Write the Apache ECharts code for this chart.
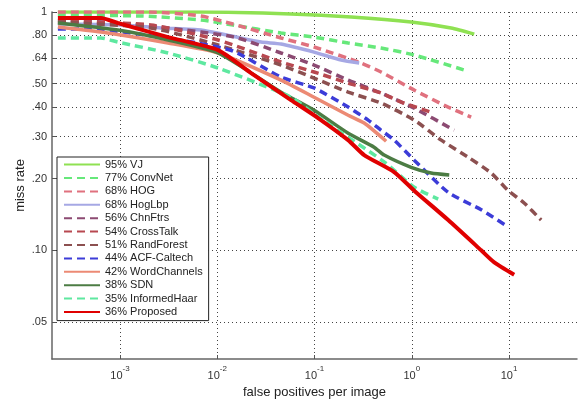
<!DOCTYPE html>
<html>
<head>
<meta charset="utf-8">
<script src="https://cdn.jsdelivr.net/npm/echarts@6/dist/echarts.min.js"></script>
<style>
  html, body { margin: 0; padding: 0; background: #fff; }
  #missRateChart { width: 579px; height: 403px; }
</style>
</head>
<body>
<div id="missRateChart"></div>
<script>
  // tick values
  var xTicks = [1e-3, 1e-2, 1e-1, 1, 10]
  var yTicks = [0.05, 0.1, 0.2, 0.3, 0.4, 0.5, 0.64, 0.8, 1]

  var names = ['95% VJ', '77% ConvNet', '68% HOG', '68% HogLbp', '56% ChnFtrs', '54% CrossTalk',
    '51% RandForest', '44% ACF-Caltech', '42% WordChannels', '38% SDN', '35% InformedHaar', '36% Proposed']

  // [false positives per image, miss rate]
  var vj = [[2.3e-4, 1.0], [6.8e-3, 1.0], [5.74e-2, 0.981], [0.238, 0.953], [0.986, 0.908], [2.54, 0.857], [4.39, 0.808]]
  var convNet = [[2.3e-4, 0.971], [1.64e-3, 0.962], [6.8e-3, 0.926], [1.45e-2, 0.882], [4.53e-2, 0.816], [0.099, 0.785],
    [0.222, 0.741], [0.484, 0.706], [1.06, 0.660], [3.46, 0.571]]
  var hog = [[2.3e-4, 1.0], [2.08e-3, 1.0], [6.8e-3, 0.962], [1.45e-2, 0.89], [4.53e-2, 0.778], [0.099, 0.713],
    [0.301, 0.611], [0.484, 0.560], [1.06, 0.470], [2.37, 0.399], [4.08, 0.362]]
  var hogLbp = [[2.3e-4, 0.89], [1.02e-3, 0.882], [2.64e-3, 0.857], [6.8e-3, 0.84], [1.39e-2, 0.793], [2.82e-2, 0.748],
    [4.53e-2, 0.734], [0.099, 0.679], [0.188, 0.629], [0.288, 0.611]]
  var chnFtrs = [[2.3e-4, 0.926], [9.5e-4, 0.899], [3.12e-3, 0.857], [1.49e-2, 0.785], [4.53e-2, 0.673], [0.099, 0.599],
    [0.222, 0.518], [0.484, 0.457], [1.06, 0.395], [2.73, 0.319]]
  var crossTalk = [[2.3e-4, 0.917], [2.08e-3, 0.882], [1.02e-2, 0.763], [4.53e-2, 0.617], [0.099, 0.560], [0.222, 0.503],
    [0.484, 0.457], [0.778, 0.419], [1.58, 0.380]]
  var randForest = [[2.3e-4, 0.908], [2.08e-3, 0.857], [1.02e-2, 0.727], [4.53e-2, 0.599], [0.099, 0.528], [0.222, 0.461],
    [0.484, 0.415], [1.06, 0.352], [2.01, 0.290], [3.80, 0.246], [6.56, 0.211], [9.82, 0.178], [14.3, 0.158], [21.4, 0.134]]
  var acfCaltech = [[2.3e-4, 0.848], [4.91e-4, 0.848], [4.78e-3, 0.755], [1.45e-2, 0.686], [4.53e-2, 0.533], [0.099, 0.48],
    [0.222, 0.399], [0.356, 0.352], [0.484, 0.319], [0.659, 0.290], [1.06, 0.239], [2.37, 0.175], [5.18, 0.148], [9.36, 0.127]]
  var wordChannels = [[2.3e-4, 0.865], [6.38e-4, 0.824], [3.12e-3, 0.741], [1.02e-2, 0.673], [4.53e-2, 0.518], [0.099, 0.439],
    [0.222, 0.369], [0.324, 0.342], [0.545, 0.287]]
  var sdn = [[2.3e-4, 0.899], [9.5e-4, 0.84], [3.12e-3, 0.763], [1.02e-2, 0.673], [4.53e-2, 0.461], [0.099, 0.387],
    [0.222, 0.31], [0.41, 0.271], [0.52, 0.251], [0.986, 0.223], [1.58, 0.211], [2.43, 0.207]]
  var informedHaar = [[2.3e-4, 0.778], [6.38e-4, 0.778], [9.5e-4, 0.748], [3.12e-3, 0.673], [1.02e-2, 0.582], [5.74e-2, 0.439],
    [0.099, 0.373], [0.52, 0.235], [1.06, 0.184], [1.87, 0.164]]
  var proposed = [[2.3e-4, 0.944], [6.38e-4, 0.944], [9.5e-4, 0.899], [3.12e-3, 0.785], [1.02e-2, 0.692], [2.23e-2, 0.554],
    [5.74e-2, 0.427], [0.109, 0.359], [0.222, 0.29], [0.324, 0.251], [0.659, 0.213], [1.06, 0.178], [2.37, 0.134],
    [5.18, 0.10], [7.05, 0.089], [11.3, 0.079]]

  var curves = [vj, convNet, hog, hogLbp, chnFtrs, crossTalk, randForest, acfCaltech, wordChannels, sdn, informedHaar, proposed]

  var lineColors = ['#8fe152', '#66e87a', '#e0717e', '#a6a8e4', '#8c4a72', '#b84850',
    '#8c5050', '#3c3cd8', '#ec8a74', '#4c7c44', '#5ee8a0', '#e00000']
  var dashed = [false, true, true, false, true, true, true, true, false, false, true, false]

  var font = 'Liberation Sans, Arial, sans-serif'

  function makeSeries () {
    var list = []
    for (var i = 0; i < curves.length; i++) {
      list.push({
        name: names[i],
        type: 'line',
        data: curves[i],
        symbol: 'none',
        smooth: 0.2,
        lineStyle: {
          color: lineColors[i],
          width: i === curves.length - 1 ? 4 : 3.5,
          type: dashed[i] ? [8, 5] : 'solid'
        },
        itemStyle: { color: lineColors[i] }
      })
    }
    return list
  }

  var gridLine = { show: true, lineStyle: { color: '#444', width: 1, type: [1, 3] } }

  var option = {
    animation: false,
    grid: { left: 52, right: 2, top: 12, bottom: 44, outerBoundsMode: 'none' },
    xAxis: {
      type: 'log',
      logBase: 10,
      min: 2e-4,
      max: 50,
      name: 'false positives per image',
      nameLocation: 'middle',
      nameGap: 26,
      nameTextStyle: { fontSize: 13, color: '#222', fontFamily: font },
      axisLine: { lineStyle: { color: '#666', width: 1.5 } },
      axisTick: { inside: true, length: 4, customValues: xTicks, lineStyle: { color: '#555' } },
      axisLabel: {
        customValues: xTicks,
        margin: 6,
        color: '#333',
        fontFamily: font,
        formatter: function (v) {
          return '{b|10}{s|' + Math.round(Math.log10(v)) + '}'
        },
        rich: {
          b: { fontSize: 11, lineHeight: 16, verticalAlign: 'bottom', fontFamily: font, color: '#333' },
          s: { fontSize: 8, lineHeight: 9, verticalAlign: 'top', fontFamily: font, color: '#333' }
        }
      },
      splitLine: gridLine,
      minorTick: { show: false }
    },
    yAxis: {
      type: 'log',
      logBase: 10,
      min: 0.035,
      max: 1,
      name: 'miss rate',
      nameLocation: 'middle',
      nameGap: 25,
      nameMoveOverlap: false,
      nameTextStyle: { fontSize: 13, color: '#222', fontFamily: font },
      axisLine: { lineStyle: { color: '#666', width: 1.5 } },
      axisTick: { inside: true, length: 4, customValues: yTicks, lineStyle: { color: '#555' } },
      axisLabel: {
        customValues: yTicks,
        margin: 5,
        fontSize: 11,
        color: '#333',
        fontFamily: font,
        formatter: function (v) {
          return v === 1 ? '1' : v.toFixed(2).replace(/^0/, '')
        }
      },
      splitLine: gridLine
    },
    legend: {
      orient: 'vertical',
      left: 57,
      top: 157,
      itemWidth: 36,
      itemHeight: 14,
      itemGap: 2.2,
      padding: [2, 6, 3, 6],
      backgroundColor: '#fff',
      borderColor: '#222',
      borderWidth: 1,
      borderRadius: 0,
      itemStyle: { opacity: 0 },
      textStyle: { fontSize: 11, color: '#222', fontFamily: font },
      data: names
    },
    series: makeSeries()
  }

  var chart = echarts.init(document.getElementById('missRateChart'))
  chart.setOption(option)
</script>
</body>
</html>
